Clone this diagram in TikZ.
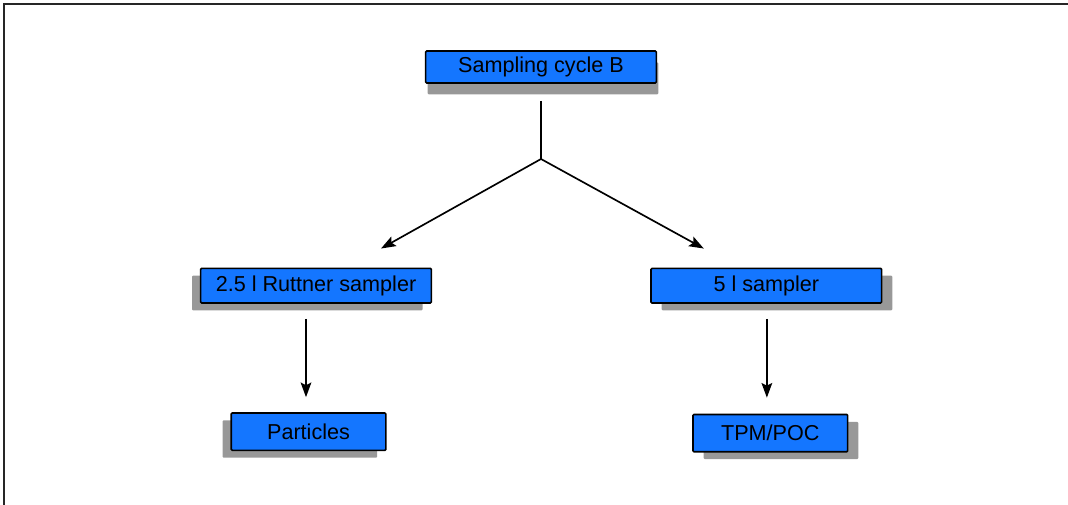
\documentclass[tikz,border=0pt]{standalone}
\usepackage{fontspec}
\setmainfont{Liberation Sans}
\usetikzlibrary{shadows, arrows.meta}
\definecolor{boxblue}{RGB}{20,118,255}
\definecolor{shadowgray}{RGB}{152,152,152}
\tikzstyle{sample} = [rectangle, rounded corners=0.8pt, minimum width=173pt, minimum height=26pt, inner sep=0pt, text centered, draw=black, line width=1.2pt, fill=boxblue, font=\fontsize{16.2}{19}\selectfont]
\tikzstyle{shadowtop} = [general shadow={fill=shadowgray, shadow xshift=1.5pt, shadow yshift=-8.5pt}]
\tikzstyle{shadowleft} = [general shadow={fill=shadowgray, shadow xshift=-6.5pt, shadow yshift=-5.5pt}]
\tikzstyle{shadowright} = [general shadow={fill=shadowgray, shadow xshift=8pt, shadow yshift=-5.5pt}]
\tikzstyle{arrow} = [line width=1.25pt, -{Stealth[length=11pt, width=8pt, inset=2pt]}]

\begin{document}
\begin{tikzpicture}[x=0.75pt, y=-0.75pt, node distance=164pt]

    \useasboundingbox (0,0) rectangle (1068,505);
    \draw [line width=1pt, black!85] (4,505) -- (4,4) -- (1068,4);

    % Nodes
    \node (cycle) [sample, shadowtop, minimum height=24pt] at (541,67) {Sampling cycle B};
    \node (ruttner) [sample, shadowleft, below of=cycle, xshift=-168.75pt] {2.5 l Ruttner sampler};
    \node (fivel) [sample, shadowright, below of=cycle, xshift=169pt] {5 l sampler};
    \node (particles) [sample, shadowleft, minimum width=116pt, minimum height=28pt, node distance=109.5pt, below of=ruttner, xshift=-5.6pt] {Particles};
    \node (tpm) [sample, shadowright, minimum width=116pt, minimum height=28pt, node distance=110.6pt, below of=fivel, xshift=3pt] {TPM/POC};

    % Split below the top box
    \coordinate (stem) at ([yshift=-12.75pt]cycle.south);
    \coordinate (split) at ([yshift=-69pt]cycle.center);
    \coordinate (ruttnerin) at ([xshift=48.75pt, yshift=14.25pt]ruttner.north);
    \coordinate (fivelin) at ([xshift=-46.9pt, yshift=14.25pt]fivel.north);
    \draw [line width=1.25pt] (stem) -- (split);
    \draw [arrow] (split) -- (ruttnerin);
    \draw [arrow] (split) -- (fivelin);

    % Arrows down to the samples
    \coordinate (ruttnerout) at ([xshift=-7.5pt, yshift=-11.25pt]ruttner.south);
    \coordinate (particlesin) at ([yshift=11.25pt]particles.north);
    \coordinate (fivelout) at ([xshift=0.4pt, yshift=-11.25pt]fivel.south);
    \coordinate (tpmin) at ([yshift=12pt]tpm.north);
    \draw [arrow] (ruttnerout) -- (ruttnerout |- particlesin);
    \draw [arrow] (fivelout) -- (fivelout |- tpmin);

\end{tikzpicture}
\end{document}
